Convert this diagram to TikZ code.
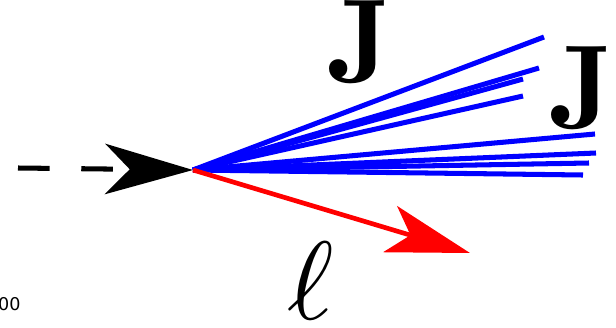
\documentclass[tikz,border=0pt]{standalone}
\usepackage{amsmath}
\usepackage{fontspec}
\newfontfamily\tickfont{DejaVu Sans}
\usetikzlibrary{arrows.meta}

\begin{document}
\begin{tikzpicture}[x=0.3mm,y=-0.3mm]
\useasboundingbox (0,0) rectangle (616,327);
\coordinate (V) at (193,170);
\coordinate (Start) at (18,168);
\coordinate (Lend) at (470,253);
\coordinate (j1) at (544,37);
\coordinate (j2) at (539,68);
\coordinate (j3) at (523,79);
\coordinate (j4) at (523,96);
\coordinate (j5) at (595,134);
\coordinate (j6) at (596,153);
\coordinate (j7) at (589,163);
\coordinate (j8) at (583,175);

% incoming particle
\draw[-{Stealth[length=75pt,width=43pt,inset=21pt]}, line width=4.3pt,
  dash pattern=on 27pt off 27pt] (Start) -- (V);

% jets
\foreach \j in {j1,j2,j3,j4,j5,j6,j7,j8}
  \draw[blue, line width=4.3pt] (V) -- (\j);

% lepton
\draw[-{Stealth[length=71pt,width=41pt,inset=18pt]}, red, line width=4pt] (V) -- (Lend);

\node[scale=10.2, inner sep=0pt] (jet1) at (360,42) {$\mathbf{J}$};
\node[scale=10.2, inner sep=0pt] (jet2) at (582,88) {$\mathbf{J}$};
\node[scale=9.5, inner sep=0pt] (lep) at (311,281) {$\ell$};
\node[anchor=west, inner sep=0pt] (tick) at (-2,304) {\tickfont\fontsize{15}{18}\selectfont 00};
\end{tikzpicture}
\end{document}
